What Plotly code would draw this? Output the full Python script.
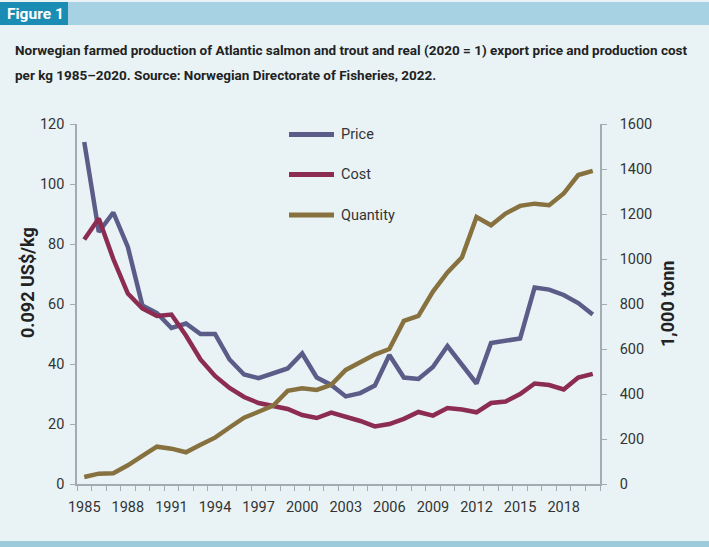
import plotly.graph_objects as go

years = list(range(1985, 2021))
price = [114, 84, 90.5, 79, 59.5, 57, 52, 53.5, 50, 50, 41.5, 36.5, 35.3, 36.8, 38.5, 43.5,
         35.5, 33, 29.2, 30.3, 32.8, 43, 35.5, 35, 39, 46, 39.5, 33.5, 47, 47.8, 48.5, 65.5,
         64.8, 63, 60.3, 56.5]
cost = [81.5, 88.5, 75, 63.5, 58.5, 56, 56.5, 49.5, 41.5, 36, 32, 29, 27, 26, 25, 23,
        22, 23.8, 22.5, 21, 19.2, 20, 21.7, 24, 22.8, 25.3, 24.8, 23.9, 27, 27.5, 30, 33.5,
        33, 31.5, 35.5, 36.7]
quantity = [31, 46, 48, 83, 125, 166, 157, 141, 174, 206, 251, 295, 321, 348, 414, 425,
            418, 441, 507, 541, 575, 600, 725, 747, 855, 940, 1008, 1187, 1150, 1202, 1236,
            1246, 1239, 1291, 1373, 1392]
x_ticks = list(range(1985, 2021, 3))
left_ticks = [0, 20, 40, 60, 80, 100, 120]
right_ticks = [0, 200, 400, 600, 800, 1000, 1200, 1400, 1600]

C_PRICE = "#5b5c88"
C_COST = "#8c2c52"
C_QTY = "#87723f"
FONT = "Roboto, Liberation Sans, sans-serif"
BG = "#e9f3f6"
TXT = "#333333"

fig = go.Figure()
fig.add_trace(go.Scatter(x=years, y=price, name="Price", mode="lines",
                         line=dict(color=C_PRICE, width=4.5), yaxis="y"))
fig.add_trace(go.Scatter(x=years, y=cost, name="Cost", mode="lines",
                         line=dict(color=C_COST, width=4.5), yaxis="y"))
fig.add_trace(go.Scatter(x=years, y=quantity, name="Quantity", mode="lines",
                         line=dict(color=C_QTY, width=4.5), yaxis="y2"))

W, H = 709, 547
L, R, T, B = 77, 109, 124, 63
pw = W - L - R
ph = H - T - B

def px(xp):
    return (xp - L) / pw

def py(yp):
    return (H - B - yp) / ph

shapes = []
shapes.append(dict(type="rect", xref="paper", yref="paper", x0=px(0), x1=px(W), y0=py(25), y1=py(2),
                   fillcolor="#a6d2e3", line=dict(width=0), layer="below"))
shapes.append(dict(type="rect", xref="paper", yref="paper", x0=px(0), x1=px(68), y0=py(25), y1=py(2),
                   fillcolor="#1b8db4", line=dict(width=0), layer="below"))
shapes.append(dict(type="rect", xref="paper", yref="paper", x0=px(0), x1=px(W), y0=py(H), y1=py(541),
                   fillcolor="#9dcbdc", line=dict(width=0), layer="below"))

annotations = []
annotations.append(dict(text="<b>Figure 1</b>", xref="paper", yref="paper", x=px(5), y=py(13.5),
                        xanchor="left", yanchor="middle", showarrow=False,
                        font=dict(family=FONT, size=15.5, color="white")))
annotations.append(dict(text="<b>Norwegian farmed production of Atlantic salmon and trout and real (2020 = 1) export price and production cost</b>",
                        xref="paper", yref="paper", x=px(13), y=py(50), xanchor="left", yanchor="middle",
                        showarrow=False, font=dict(family=FONT, size=13.5, color="#222222")))
annotations.append(dict(text="<b>per kg 1985\u20132020. Source: Norwegian Directorate of Fisheries, 2022.</b>",
                        xref="paper", yref="paper", x=px(13), y=py(75), xanchor="left", yanchor="middle",
                        showarrow=False, font=dict(family=FONT, size=13.5, color="#222222")))
annotations.append(dict(text="<b>0.092 US$/kg</b>", xref="paper", yref="paper", x=px(27), y=py(283),
                        xanchor="center", yanchor="middle", textangle=-90, showarrow=False,
                        font=dict(family=FONT, size=18, color="#222222")))
annotations.append(dict(text="<b>1,000 tonn</b>", xref="paper", yref="paper", x=px(667), y=py(304),
                        xanchor="center", yanchor="middle", textangle=-90, showarrow=False,
                        font=dict(family=FONT, size=18, color="#222222")))

for name, col, yy in [("Price", C_PRICE, 134.5), ("Cost", C_COST, 174.5), ("Quantity", C_QTY, 215)]:
    shapes.append(dict(type="line", xref="paper", yref="paper", x0=px(289), x1=px(334), y0=py(yy), y1=py(yy),
                       line=dict(color=col, width=5)))
    annotations.append(dict(text=name, xref="paper", yref="paper", x=px(339), y=py(yy),
                            xanchor="left", yanchor="middle", showarrow=False,
                            font=dict(family=FONT, size=14.5, color=TXT)))

AXC = "#a3acb3"
fig.update_layout(
    width=W, height=H,
    margin=dict(l=L, r=R, t=T, b=B),
    paper_bgcolor=BG, plot_bgcolor=BG,
    showlegend=False,
    shapes=shapes, annotations=annotations,
    xaxis=dict(range=[1984.5, 2020.5], tickmode="array", tickvals=x_ticks,
               ticktext=[str(v) for v in x_ticks], ticks="outside", ticklen=9,
               tickcolor="rgba(0,0,0,0)", showgrid=False, zeroline=False,
               showline=True, linecolor=AXC, linewidth=1.5,
               tickfont=dict(family=FONT, size=14.5, color=TXT),
               minor=dict(tickmode="linear", tick0=1984.5, dtick=1, ticks="outside", ticklen=5,
                          tickcolor=AXC, tickwidth=1, showgrid=False)),
    yaxis=dict(range=[0, 120], tickmode="array", tickvals=left_ticks, ticks="outside", ticklen=5,
               tickcolor=AXC, showgrid=False, zeroline=False, showline=True, linecolor=AXC, linewidth=1.5,
               ticklabelstandoff=3,
               tickfont=dict(family=FONT, size=14.5, color=TXT)),
    yaxis2=dict(range=[0, 1600], overlaying="y", side="right", tickmode="array", tickvals=right_ticks,
                ticks="outside", ticklen=5, tickcolor=AXC, showgrid=False, zeroline=False,
                showline=True, linecolor=AXC, linewidth=1.5, ticklabelstandoff=10,
                tickfont=dict(family=FONT, size=14.5, color=TXT)),
)

fig.write_html("out.html")
